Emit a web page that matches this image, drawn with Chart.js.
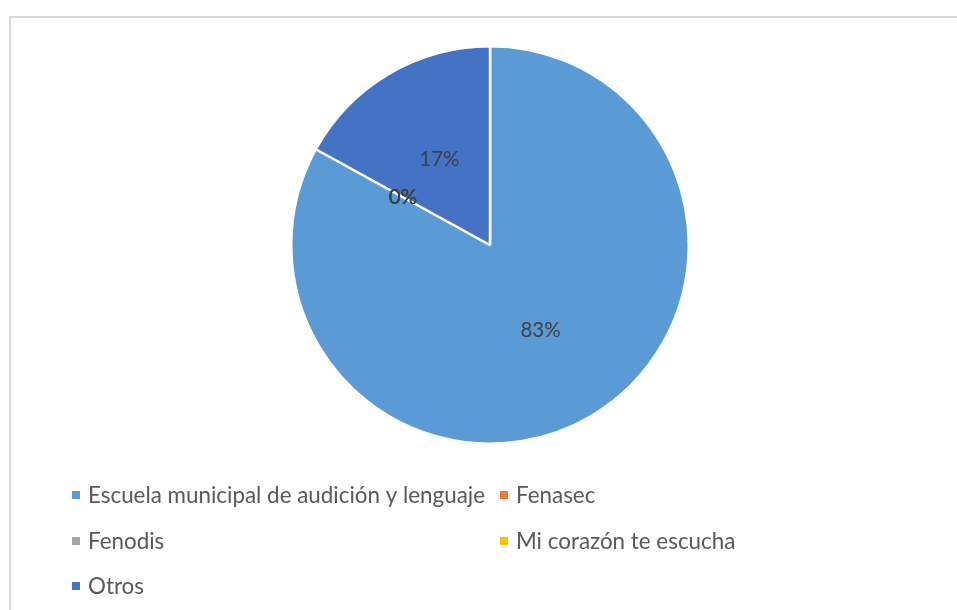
<!DOCTYPE html>
<html>
<head>
<meta charset="utf-8">
<script src="https://cdn.jsdelivr.net/npm/chart.js@4/dist/chart.umd.min.js"></script>
<style>
  html, body { margin: 0; padding: 0; background: #fff; }
  #wrap { position: absolute; left: 0; top: 0; width: 957px; height: 610px; }
  #frame { position: absolute; left: 9px; top: 16px; width: 960px; height: 610px; border: 2px solid #d9d9d9; box-sizing: border-box; }
  canvas { position: absolute; left: 0; top: 0; }
</style>
</head>
<body>
<div id="wrap">
  <div id="frame"></div>
  <canvas id="c" width="957" height="610"></canvas>
</div>
<script>
const categories = ["Escuela municipal de audición y lenguaje", "Fenasec", "Fenodis", "Mi corazón te escucha", "Otros"];
const values = [83, 0, 0, 0, 17];
const colors = ["#5B9BD5", "#ED7D31", "#A5A5A5", "#FFC000", "#4472C4"];
const FONT = "Lato, 'Open Sans', sans-serif";

const labelPlugin = {
  id: 'pctLabels',
  afterDatasetsDraw(chart) {
    const ctx = chart.ctx;
    const meta = chart.getDatasetMeta(0);
    const total = values.reduce((a, b) => a + b, 0);
    ctx.save();
    ctx.font = "20.5px " + FONT;
    ctx.fillStyle = "#404040";
    ctx.textAlign = "center";
    ctx.textBaseline = "middle";
    meta.data.forEach((arc, i) => {
      const p = arc.getProps(['x','y','startAngle','endAngle','outerRadius'], true);
      const mid = (p.startAngle + p.endAngle) / 2;
      const r = p.outerRadius * 0.5;
      const pct = Math.round(values[i] / total * 100) + "%";
      ctx.fillText(pct, p.x + Math.cos(mid) * r, p.y + Math.sin(mid) * r);
    });
    ctx.restore();
  }
};

const legendPlugin = {
  id: 'gridLegend',
  afterDraw(chart) {
    const ctx = chart.ctx;
    const cols = [72, 500];
    const rows = [495, 541, 586];
    ctx.save();
    ctx.font = "22.4px " + FONT;
    ctx.textBaseline = "middle";
    ctx.textAlign = "left";
    categories.forEach((name, i) => {
      const x = cols[i % 2];
      const y = rows[Math.floor(i / 2)];
      ctx.fillStyle = colors[i];
      ctx.fillRect(x, y - 4, 8, 8);
      ctx.fillStyle = "#595959";
      ctx.fillText(name, x + 16, y + 1);
    });
    ctx.restore();
  }
};

new Chart(document.getElementById('c'), {
  type: 'pie',
  data: {
    labels: categories,
    datasets: [{
      data: values,
      backgroundColor: colors,
      borderColor: "#ffffff",
      borderWidth: 2.5
    }]
  },
  options: {
    responsive: false,
    animation: false,
    layout: { padding: { left: 23, right: 0, top: 45, bottom: 165 } },
    plugins: {
      legend: { display: false },
      tooltip: { enabled: false }
    }
  },
  plugins: [labelPlugin, legendPlugin]
});
</script>
</body>
</html>
